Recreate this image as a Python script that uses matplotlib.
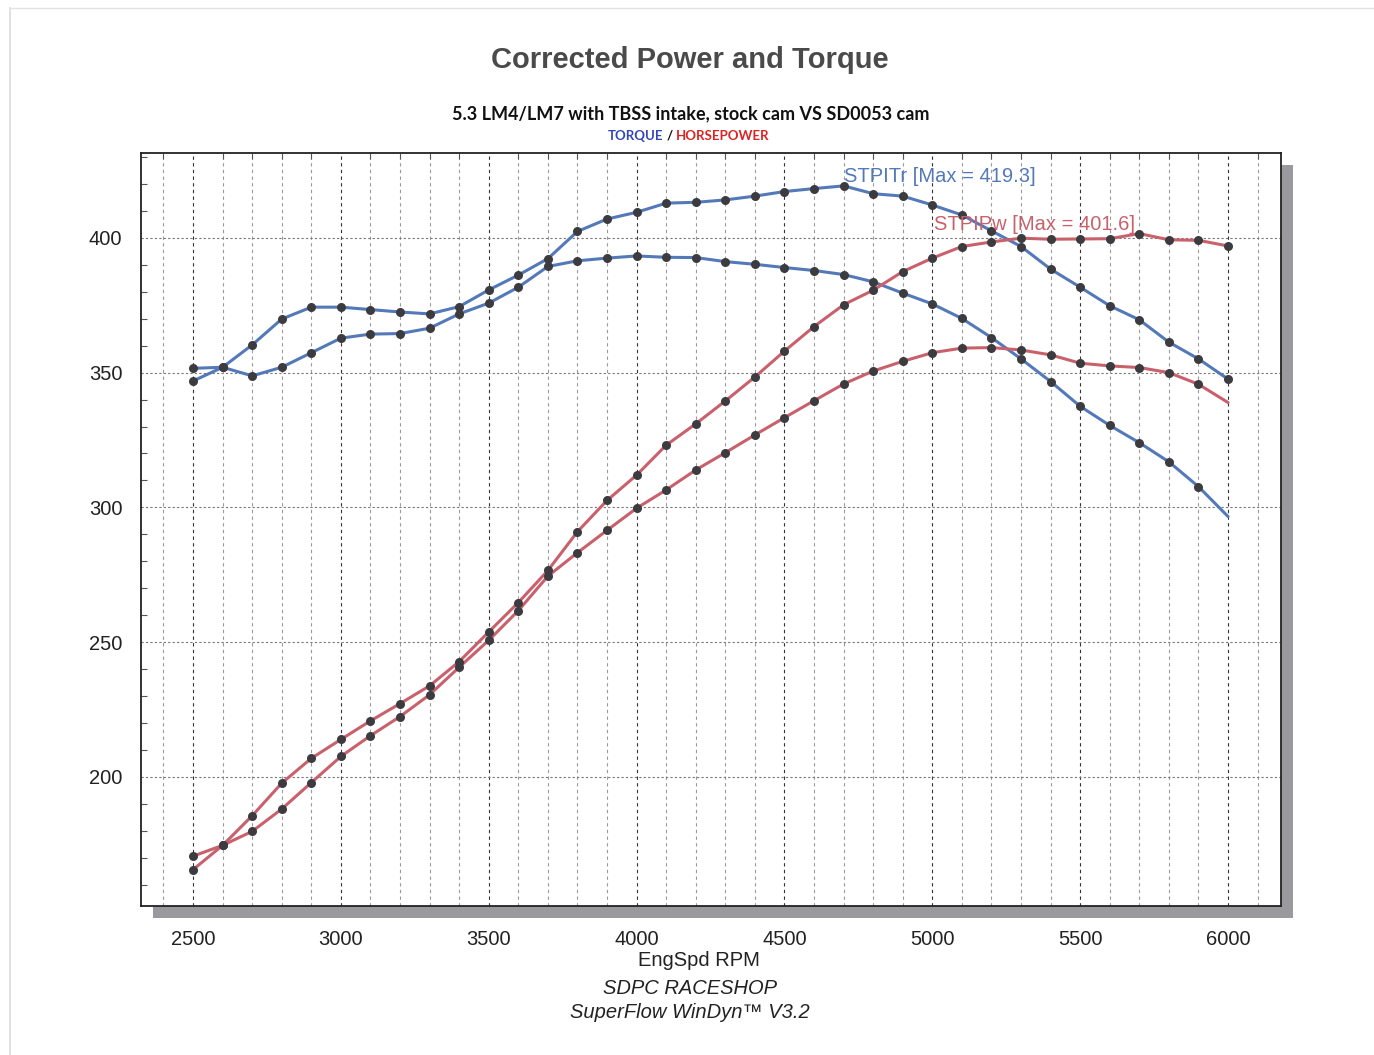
import matplotlib
matplotlib.use("Agg")
import matplotlib.pyplot as plt
from matplotlib.patches import Rectangle
from matplotlib.lines import Line2D
import numpy as np

rpm = list(range(2500, 6001, 100))

# SD0053 cam (upper at top end)
torque_cam = [346.9, 352.0, 360.3, 369.9, 374.3, 374.3, 373.4, 372.5, 371.8, 374.5,
              380.7, 386.2, 392.3, 402.4, 407.0, 409.5, 412.9, 413.2, 414.1, 415.5,
              417.2, 418.3, 419.3, 416.4, 415.5, 412.2, 408.5, 402.6, 396.8, 388.4,
              381.7, 374.8, 369.6, 361.3, 355.1, 347.6]
# stock cam
torque_stock = [351.6, 352.0, 348.8, 352.0, 357.4, 362.8, 364.3, 364.5, 366.5, 371.8,
                375.8, 381.7, 389.4, 391.5, 392.5, 393.3, 392.8, 392.7, 391.2, 390.2,
                389.0, 387.9, 386.4, 383.7, 379.5, 375.5, 370.1, 363.0, 355.1, 346.7,
                337.5, 330.4, 324.0, 316.9, 307.7, 296.6]
power_cam = [165.6, 174.6, 185.6, 197.7, 206.9, 213.9, 220.8, 227.2, 233.8, 242.8,
             253.8, 264.7, 276.6, 291.0, 302.6, 312.0, 323.1, 331.0, 339.5, 348.4,
             358.0, 367.1, 375.2, 380.6, 387.5, 392.5, 396.8, 398.5, 399.9, 399.5,
             399.6, 399.7, 401.6, 399.3, 399.1, 397.0]
power_stock = [170.6, 174.6, 179.8, 188.1, 197.9, 207.6, 215.3, 222.4, 230.5, 240.7,
               250.7, 261.7, 274.5, 283.2, 291.5, 299.7, 306.5, 313.9, 320.3, 326.9,
               333.3, 339.6, 345.8, 350.6, 354.2, 357.4, 359.1, 359.3, 358.4, 356.6,
               353.5, 352.5, 351.9, 350.0, 345.7, 338.9]

xticks = [2500, 3000, 3500, 4000, 4500, 5000, 5500, 6000]
yticks = [200, 250, 300, 350, 400]

BLUE = "#5379b8"
RED = "#c9616c"
DOT = "#3c3c40"
FONT = ["Liberation Sans", "DejaVu Sans"]
SUBFONT = ["Lato", "DejaVu Sans"]

W, H = 1374, 1055
fig = plt.figure(figsize=(W / 100, H / 100), dpi=100)
fig.patch.set_facecolor("white")

# faint scanned-page edges
fig.add_artist(Line2D([10 / W, 10 / W], [0, 1 - 8 / H], transform=fig.transFigure,
                      color="#dcdcdc", lw=1.2))
fig.add_artist(Line2D([10 / W, 1], [1 - 8 / H, 1 - 8 / H], transform=fig.transFigure,
                      color="#e2e2e2", lw=1.0))

L, R, T, B = 141, 1281, 153, 906
ax = fig.add_axes([L / W, 1 - B / H, (R - L) / W, (B - T) / H])

# drop shadow
fig.patches.append(Rectangle(((L + 12) / W, 1 - (B + 12) / H), (R - L) / W, (B - T) / H,
                             transform=fig.transFigure, facecolor="#9a9a9e",
                             edgecolor="none", zorder=0))
ax.set_zorder(1)
ax.set_facecolor("white")

ax.set_xlim(2324, 6179)
ax.set_ylim(152.1, 431.5)

# grid
for x in range(2400, 6101, 100):
    major = (x % 500 == 0)
    ax.axvline(x, color="#333333" if major else "#9a9a9a", lw=0.8,
               ls=(0, (3, 3)), zorder=1)
for y in yticks:
    ax.axhline(y, color="#777777", lw=0.8, ls=(0, (2, 2)), zorder=1)

def plot(vals, color, last_marker=True):
    ax.plot(rpm, vals, color=color, lw=2.2, zorder=3, solid_capstyle="round")
    n = len(vals) if last_marker else len(vals) - 1
    ax.plot(rpm[:n], vals[:n], "o", color=DOT, ms=6.5, zorder=4, mec="none")

plot(torque_cam, BLUE)
plot(torque_stock, BLUE, last_marker=False)
plot(power_cam, RED)
plot(power_stock, RED, last_marker=False)

ax.text(4700, 426.3, "STPITr [Max = 419.3]", color=BLUE, fontsize=14.5,
        family=FONT, ha="left", va="top", zorder=5)
ax.text(5005, 408.6, "STPIPw [Max = 401.6]", color=RED, fontsize=14.5,
        family=FONT, ha="left", va="top", zorder=5)

ax.set_xticks(xticks)
ax.set_xticklabels([str(v) for v in xticks], family=FONT, fontsize=14.5, color="#222222")
ax.set_yticks(yticks)
ax.set_yticklabels([str(v) for v in yticks], family=FONT, fontsize=14.5, color="#222222")
ax.tick_params(axis="both", length=0)
ax.tick_params(axis="x", pad=17)
ax.tick_params(axis="y", pad=13.5)
# minor inward ticks
ax.set_yticks(np.arange(160, 431, 10), minor=True)
ax.set_xticks(np.arange(2400, 6101, 100), minor=True)
ax.tick_params(which="minor", direction="in", length=4, width=0.8, color="#555555",
               left=True, top=True, bottom=False, right=False)
for s in ax.spines.values():
    s.set_color("#222222")
    s.set_linewidth(1.3)

# texts
fig.text(690 / W, 1 - 60 / H, "Corrected Power and Torque", ha="center", va="center",
         fontsize=21, fontweight="bold", color="#4a4a4a", family=FONT)
fig.text(691 / W, 1 - 114 / H, "5.3 LM4/LM7 with TBSS intake, stock cam VS SD0053 cam",
         ha="center", va="center", fontsize=13, fontweight="bold", color="#111111",
         family=SUBFONT)
# TORQUE / HORSEPOWER
fig.text(663 / W, 1 - 136 / H, "TORQUE", ha="right", va="center", fontsize=9.5,
         fontweight="bold", color="#3346b8", family=SUBFONT)
fig.text(669.5 / W, 1 - 136 / H, "/", ha="center", va="center", fontsize=9.5,
         fontweight="bold", color="#111111", family=SUBFONT)
fig.text(676 / W, 1 - 136 / H, "HORSEPOWER", ha="left", va="center", fontsize=9.5,
         fontweight="bold", color="#dd2222", family=SUBFONT)

fig.text(699 / W, 1 - 961 / H, "EngSpd RPM", ha="center", va="center", fontsize=14.5,
         color="#222222", family=FONT)
fig.text(690 / W, 1 - 989 / H, "SDPC RACESHOP", ha="center", va="center", fontsize=14.5,
         style="italic", color="#222222", family=FONT)
fig.text(690 / W, 1 - 1012 / H, "SuperFlow WinDyn\u2122 V3.2", ha="center", va="center",
         fontsize=14.5, style="italic", color="#222222", family=FONT)

fig.savefig("out.png", dpi=100, facecolor="white")
